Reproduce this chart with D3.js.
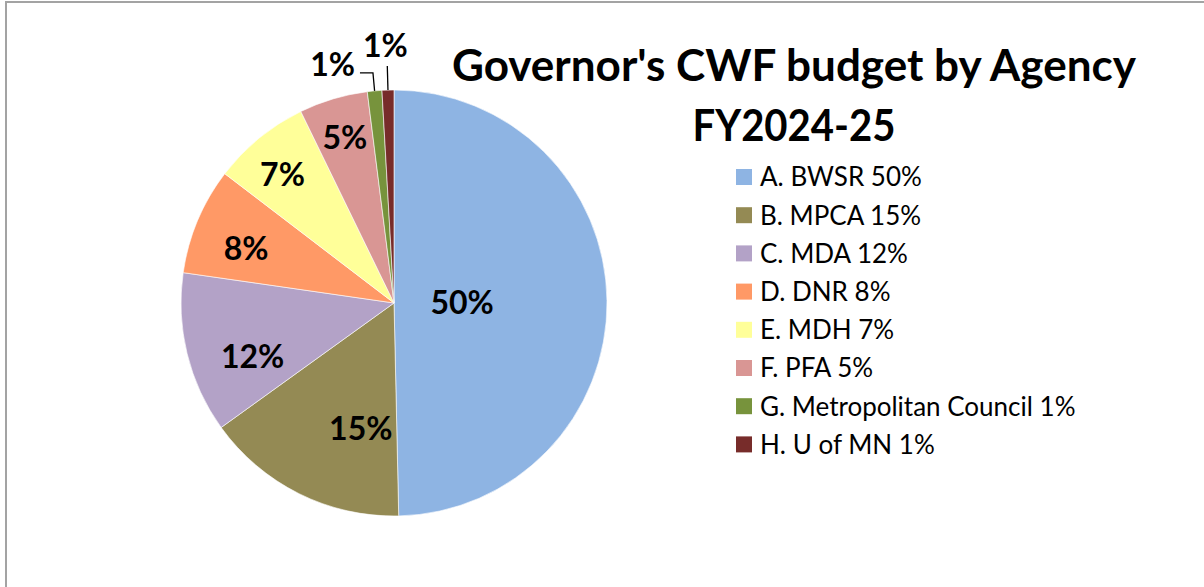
<!DOCTYPE html>
<html>
<head>
<meta charset="utf-8">
<script src="https://cdn.jsdelivr.net/npm/d3@7"></script>
<style>
  body{margin:0;background:#fff;}
  svg{display:block;font-family:Lato,"Open Sans",sans-serif;}
</style>
</head>
<body>
<div id="grafico"></div>
<script>
// datos (porcentaje del presupuesto)
var agencias=["A. BWSR","B. MPCA","C. MDA","D. DNR","E. MDH","F. PFA","G. Metropolitan Council","H. U of MN"]
var valores=[49.6,15.4,12.2,8.1,7.4,5.2,1.1,0.9]
var colores=["#8EB4E3","#948A54","#B3A2C7","#FF9966","#FFFF99","#D99694","#77933C","#772C2A"]
var titulo=["Governor's CWF budget by Agency","FY2024-25"]

var ancho=1204, alto=587
var cx=394, cy=303, radio=213
// ubicacion de cada etiqueta: fraccion del radio y fraccion del angulo de la rebanada
// null = etiqueta afuera con linea guia
var radioEtiqueta=[0.32,0.61,0.71,0.74,0.80,0.81,null,null]
var fracAngulo=[0.5,0.29,0.34,0.41,0.44,0.5,0.5,0.5]

var datos=agencias.map(function(a,i){return {nombre:a,valor:valores[i],color:colores[i],idx:i}})
var total=d3.sum(valores)
var fmt=function(v){return Math.round(v/total*100)+"%"}

var svg=d3.select("#grafico").append("svg")
	.attr("width",ancho).attr("height",alto)

//marco gris
svg.append("rect")
	.attr("x",6).attr("y",2)
	.attr("width",ancho+20).attr("height",alto+20)
	.attr("fill","none").attr("stroke","#a3a3a3").attr("stroke-width",2)

var pie=d3.pie().sort(null).value(function(d){return d.valor})
var arcos=pie(datos)
var arco=d3.arc().innerRadius(0).outerRadius(radio)

var g=svg.append("g").attr("transform","translate("+cx+","+cy+")")

g.selectAll("path.rebanada")
	.data(arcos)
	.enter()
	.append("path")
	.attr("class","rebanada")
	.attr("d",arco)
	.attr("fill",function(d){return d.data.color})
	.attr("stroke","#fff").attr("stroke-width",0.6)

function punto(d,r,f){
	var a=d.startAngle+(d.endAngle-d.startAngle)*(f==null?0.5:f)
	return [r*Math.sin(a),-r*Math.cos(a)]
}

//etiquetas dentro
g.selectAll("text.dentro")
	.data(arcos.filter(function(d){return radioEtiqueta[d.data.idx]!=null}))
	.enter()
	.append("text")
	.attr("class","dentro")
	.attr("transform",function(d){
		var c=punto(d,radio*radioEtiqueta[d.data.idx],fracAngulo[d.data.idx])
		return "translate("+c[0]+","+c[1]+")"})
	.attr("text-anchor","middle")
	.attr("dy","0.36em")
	.style("font-size","32px").style("font-weight","bold")
	.text(function(d){return fmt(d.data.valor)})

//etiquetas afuera con lineas guia
var afuera=arcos.filter(function(d){return radioEtiqueta[d.data.idx]==null})
afuera.forEach(function(d,k){
	var p0=punto(d,radio)
	if(k==0){
		var p1=punto(d,radio+18)
		var p2=[p1[0]-13,p1[1]]
		g.append("path")
			.attr("d",d3.line()([p0,p1,p2]))
			.attr("fill","none").attr("stroke","#000").attr("stroke-width",1.3)
		g.append("text")
			.attr("x",p2[0]-5).attr("y",p2[1]+3)
			.attr("text-anchor","end")
			.style("font-size","32px").style("font-weight","bold")
			.text(fmt(d.data.valor))
	}else{
		var p1=punto(d,radio+24)
		g.append("path")
			.attr("d",d3.line()([p0,p1]))
			.attr("fill","none").attr("stroke","#000").attr("stroke-width",1.3)
		g.append("text")
			.attr("x",p1[0]-2).attr("y",p1[1]-9)
			.attr("text-anchor","middle")
			.style("font-size","32px").style("font-weight","bold")
			.text(fmt(d.data.valor))
	}
})

//titulo
svg.selectAll("text.titulo")
	.data(titulo)
	.enter()
	.append("text")
	.attr("class","titulo")
	.attr("x",794)
	.attr("y",function(d,i){return 81+i*60})
	.attr("text-anchor","middle")
	.style("font-size","44px").style("font-weight","bold")
	.attr("textLength",function(d,i){return i==0?684:203})
	.attr("lengthAdjust","spacingAndGlyphs")
	.text(function(d){return d})

//leyenda
var ley=svg.selectAll("g.ley")
	.data(datos)
	.enter()
	.append("g")
	.attr("class","ley")
	.attr("transform",function(d,i){return "translate(736,"+(177+i*38.2)+")"})
ley.append("rect")
	.attr("x",0).attr("y",-8)
	.attr("width",16).attr("height",16)
	.attr("fill",function(d){return d.color})
ley.append("text")
	.attr("x",24).attr("y",0).attr("dy","0.36em")
	.style("font-size","26px")
	.text(function(d){return d.nombre+" "+fmt(d.valor)})
</script>
</body>
</html>
